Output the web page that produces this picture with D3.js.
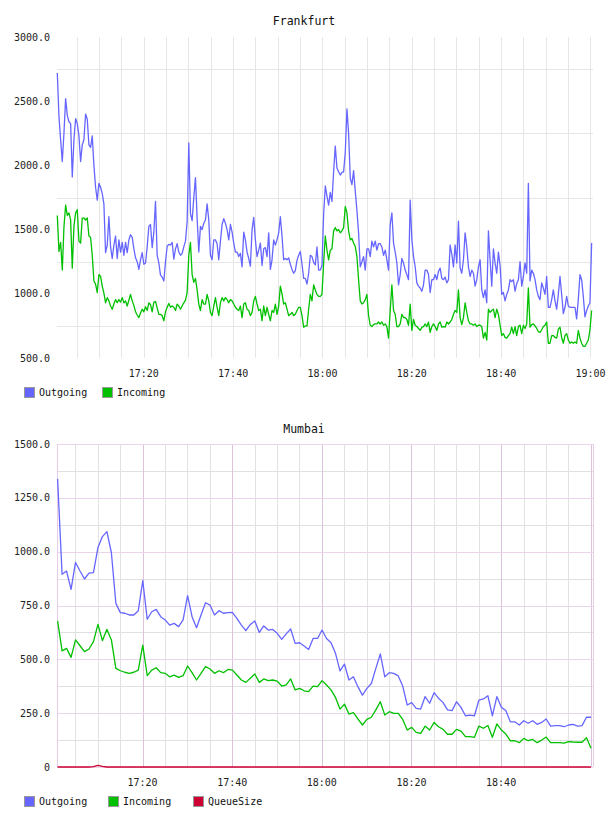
<!DOCTYPE html>
<html>
<head>
<meta charset="utf-8">
<script src="https://cdn.jsdelivr.net/npm/d3@7"></script>
<style>
    body { margin: 0; background: #fff; }
    text { font-family: "DejaVu Sans Mono", monospace; }
</style>
</head>
<body>
<svg id="page" width="608" height="816"></svg>
<script>
// ---------------- data ----------------
// Frankfurt: sampled every ~22 seconds
const fraStart = "17:00:38";
const fraStepSeconds = 22.36;

const fraOutgoing = [
    2720, 2380, 2200, 2030, 2250, 2520, 2390, 2340, 2325, 1910,
    2200, 2365, 2325, 2230, 2030, 2160, 2200, 2400, 2360, 2160,
    2140, 2230, 2000, 1830, 1730, 1860, 1830, 1780, 1700, 1320,
    1380, 1600, 1365, 1275, 1380, 1450, 1275, 1420, 1325, 1400,
    1300, 1400, 1320, 1420, 1460, 1440, 1350, 1280, 1250, 1190,
    1265, 1320, 1230, 1240, 1365, 1525, 1540, 1360, 1480, 1720,
    1300, 1240, 1145, 1130, 1100, 1250, 1370, 1385, 1380, 1400,
    1270, 1350, 1390, 1325, 1300, 1315, 1365, 1410, 1560, 2175,
    1625, 1570, 1750, 1905, 1590, 1325, 1525, 1500, 1550, 1575,
    1700, 1575, 1300, 1265, 1420, 1420, 1390, 1265, 1410, 1540,
    1585, 1550, 1500, 1420, 1540, 1480, 1395, 1325, 1325, 1290,
    1315, 1210, 1480, 1420, 1325, 1275, 1215, 1500, 1595, 1420,
    1290, 1340, 1395, 1220, 1350, 1360, 1290, 1475, 1190, 1265,
    1420, 1380, 1420, 1475, 1600, 1450, 1265, 1275, 1265, 1280,
    1230, 1190, 1160, 1180, 1260, 1300,
    1330, 1232, 1120, 1120, 1075, 1160, 1300, 1290, 1245, 1225,
    1365, 1185, 1185, 1220, 1620, 1840, 1760, 1690, 1790, 1720,
    1950, 2150, 1980, 1950, 1925, 1945, 1950, 2100, 2440, 2250,
    1900, 1850, 1960, 1800, 1650, 1475, 1210, 1250, 1290, 1185,
    1350, 1350, 1290, 1410, 1365, 1410, 1340, 1390, 1390, 1365,
    1300, 1340, 1265, 1185, 1540, 1630, 1395, 1325, 1240, 1070,
    1150, 1275, 1240, 1185, 1150, 1110, 1730, 1420, 1290, 1210,
    1085, 1060, 1045, 1020, 1070, 1185, 1185, 1150, 1010, 1110,
    1110, 1150, 1110, 1175, 1200, 1120, 1110, 1130, 1085, 1110,
    1380, 1310, 1210, 1380, 1240, 1565, 1200, 1160, 1265, 1475,
    1365, 1210, 1135, 1185, 1160, 1060, 1110, 1210, 1265, 1030,
    970, 1030, 930, 1490, 1265, 1060, 1350, 1240, 1160, 1325,
    1220, 995, 1010, 945, 995, 1030, 1110, 1095, 1110, 1020,
    1080, 1110, 1250, 1060, 1135, 1240, 1160, 1860, 1100, 1185,
    1160, 1110, 1030, 980, 955, 1085, 1045, 995, 1135, 895,
    895, 955, 1030, 945, 880, 995, 1135, 995, 845, 895,
    980, 905, 895, 895, 895, 895, 805, 955, 1150, 1110,
    980, 820, 870, 905, 930, 1395
];

const fraIncoming = [
    1610, 1330, 1400, 1185, 1520, 1690, 1610, 1630, 1575, 1200,
    1525, 1630, 1655, 1410, 1395, 1590, 1590, 1575, 1590, 1450,
    1440, 1300, 1100, 1075, 1010, 1150, 1135, 1060, 1005, 930,
    970, 945, 905, 880, 920, 955, 930, 955, 935, 970,
    930, 945, 905, 950, 995, 945, 910, 860, 835, 815,
    850, 880, 860, 900, 870, 930, 915, 860, 935, 940,
    890, 840, 840, 830, 790, 860, 895, 925, 895, 905,
    895, 870, 920, 905, 880, 905, 930, 950, 1010, 1300,
    1400, 1150, 1090, 1120, 1030, 920, 870, 955, 920, 920,
    995, 945, 855, 830, 905, 970, 895, 830, 930, 970,
    945, 970, 955, 930, 955, 945, 920, 895, 880, 870,
    905, 815, 920, 930, 880, 870, 830, 855, 945, 980,
    920, 870, 880, 790, 905, 830, 895, 840, 790, 870,
    855, 920, 840, 905, 1060, 1000, 920, 930, 880, 830,
    840, 855, 830, 840, 870, 895,
    895, 830, 740, 750, 750, 880, 995, 945, 1070, 1030,
    995, 980, 980, 995, 1240, 1450, 1340, 1265, 1340, 1350,
    1490, 1515, 1490, 1500, 1475, 1490, 1515, 1680, 1630, 1490,
    1420, 1430, 1395, 1370, 1290, 1110, 945, 920, 930, 955,
    995, 830, 755, 745, 760, 765, 765, 780, 765, 780,
    755, 765, 745, 655, 870, 1070, 870, 840, 745, 745,
    765, 840, 815, 815, 800, 755, 920, 715, 800, 755,
    745, 730, 715, 740, 745, 765, 745, 780, 700, 745,
    765, 745, 715, 765, 780, 740, 745, 740, 780, 765,
    780, 800, 840, 870, 855, 1030, 815, 760, 815, 930,
    855, 790, 765, 765, 755, 765, 745, 755, 755, 745,
    655, 700, 640, 880, 855, 870, 880, 815, 880, 840,
    755, 675, 690, 660, 655, 675, 690, 740, 690, 745,
    675, 745, 755, 690, 755, 730, 765, 1045, 740, 760,
    765, 750, 730, 705, 700, 720, 745, 755, 780, 615,
    615, 675, 675, 660, 655, 725, 740, 660, 615, 675,
    690, 640, 615, 625, 615, 625, 615, 715, 655, 615,
    590, 590, 615, 640, 720, 870
];

// Mumbai: one sample a minute
const mumStart = "17:01:03";
const mumStepSeconds = 60;

const mumOutgoing = [
    1338, 895, 910, 825, 950, 910, 873, 900, 903, 1019,
    1070, 1093, 995, 760, 717, 714, 706, 706, 726, 865,
    686, 721, 732, 698, 683, 659, 667, 652, 683, 796,
    698, 647, 706, 763, 752, 706, 726, 714, 717, 718,
    690, 659, 633, 662, 678, 625, 655, 636, 639, 621,
    593, 618, 641, 574, 577, 562, 546, 597, 597, 636,
    597, 577, 528, 446, 478, 404, 419, 373, 334, 365,
    388, 458, 525, 419, 438, 435, 423, 376, 288, 299,
    272, 269, 327, 296, 345, 319, 299, 265, 262, 303,
    277, 238, 241, 238, 311, 316, 331, 238, 327, 277,
    262, 210, 210, 195, 215, 203, 215, 198, 207, 223,
    190, 192, 192, 187, 195, 198, 190, 192, 231, 231
];

const mumIncoming = [
    678, 539, 551, 509, 590, 563, 536, 548, 582, 662,
    587, 639, 590, 458, 447, 440, 435, 440, 450, 566,
    424, 450, 461, 438, 435, 419, 427, 416, 424, 469,
    438, 404, 435, 466, 455, 435, 447, 438, 453, 450,
    427, 404, 393, 412, 432, 393, 409, 401, 404, 399,
    376, 381, 409, 358, 365, 354, 350, 376, 373, 401,
    381, 358, 323, 269, 292, 246, 252, 223, 195, 221,
    231, 265, 303, 241, 257, 249, 249, 221, 172, 184,
    161, 156, 190, 172, 207, 187, 175, 152, 152, 175,
    167, 141, 141, 138, 190, 180, 193, 138, 200, 172,
    153, 122, 122, 113, 133, 122, 128, 113, 125, 139,
    113, 113, 113, 111, 118, 116, 115, 115, 136, 87
];

const mumQueueSize = [
    0, 0, 0, 0, 0, 0, 0, 0, 2, 8,
    3, 0, 0, 0, 0, 0, 0, 0, 0, 0,
    0, 0, 0, 0, 0, 0, 0, 0, 0, 0,
    0, 0, 0, 0, 0, 0, 0, 0, 0, 0,
    0, 0, 0, 0, 0, 0, 0, 0, 0, 0,
    0, 0, 0, 0, 0, 0, 0, 0, 0, 0,
    0, 0, 0, 0, 0, 0, 0, 0, 0, 0,
    0, 0, 0, 0, 0, 0, 0, 0, 0, 0,
    0, 0, 0, 0, 0, 0, 0, 0, 0, 0,
    0, 0, 0, 0, 0, 0, 0, 0, 0, 0,
    0, 0, 0, 0, 0, 0, 0, 0, 0, 0,
    0, 0, 0, 0, 0, 0, 0, 0, 0, 0
];

// tick labels
const fraTimeLabels = ["17:20", "17:40", "18:00", "18:20", "18:40", "19:00"];
const mumTimeLabels = ["17:20", "17:40", "18:00", "18:20", "18:40"];
const fraValueTicks = [500, 1000, 1500, 2000, 2500, 3000];
const fraGridValues = [750, 1250, 1750, 2250, 2750];
const mumValueTicks = [0, 250, 500, 750, 1000, 1250, 1500];
const mumMinorValues = [125, 375, 625, 875, 1125, 1375];

const seriesColors = { Outgoing: "#6666ff", Incoming: "#00c000", QueueSize: "#cc0033" };

// ---------------- chart ----------------
const parseTime = d3.timeParse("%H:%M:%S");

function buildRows(start, stepSeconds, values) {
    let t0 = parseTime(start).getTime();
    return values.map((v, i) => ({ time: new Date(t0 + i * stepSeconds * 1000), value: v }));
}

class TimeChart {

    constructor(_config, _series) {
        this.config = {
            parentElement: _config.parentElement,
            title: _config.title,
            titleY: _config.titleY,
            top: _config.top,
            left: 57,
            width: 536,
            height: _config.height,
            xDomain: _config.xDomain,
            yDomain: _config.yDomain,
            yTicks: _config.yTicks,
            yFormat: _config.yFormat,
            timeLabels: _config.timeLabels,
            gridStyle: _config.gridStyle,
            legendX: _config.legendX,
            legendY: _config.legendY
        }
        this.series = _series;
        this.initVis();
    }

    initVis() {
        let vis = this;

        vis.svg = d3.select(vis.config.parentElement);

        // title above the plot
        vis.svg.append("text")
            .attr("x", 304)
            .attr("y", vis.config.titleY)
            .attr("text-anchor", "middle")
            .attr("font-size", "11.5px")
            .attr("fill", "#111")
            .text(vis.config.title);

        vis.chart = vis.svg.append("g")
            .attr("transform", `translate(${vis.config.left},${vis.config.top})`);

        vis.xScale = d3.scaleTime()
            .domain(vis.config.xDomain.map(parseTime))
            .range([0, vis.config.width]);

        vis.yScale = d3.scaleLinear()
            .domain(vis.config.yDomain)
            .range([vis.config.height, 0]);

        vis.gridG = vis.chart.append("g").attr("class", "grid")
            .attr("shape-rendering", "crispEdges");
        vis.lineG = vis.chart.append("g").attr("class", "lines");
        vis.axisG = vis.chart.append("g").attr("class", "axis");

        vis.renderVis();
    }

    renderVis() {
        let vis = this;
        let w = vis.config.width, h = vis.config.height;

        // vertical grid every 5 minutes
        let minutes = d3.timeMinute.every(5).range(vis.xScale.domain()[0], vis.xScale.domain()[1])
            .filter(t => vis.xScale(t) < w - 2);

        if (vis.config.gridStyle === "plain") {
            vis.gridG.selectAll(".vline")
                .data(minutes)
                .join("line")
                .attr("class", "vline")
                .attr("x1", d => Math.round(vis.xScale(d)) + 0.5)
                .attr("x2", d => Math.round(vis.xScale(d)) + 0.5)
                .attr("y1", 0).attr("y2", h)
                .attr("stroke", "#e6e6e6");

            vis.gridG.selectAll(".hline")
                .data(fraGridValues)
                .join("line")
                .attr("class", "hline")
                .attr("x1", 0).attr("x2", w)
                .attr("y1", d => Math.round(vis.yScale(d)) + 0.5)
                .attr("y2", d => Math.round(vis.yScale(d)) + 0.5)
                .attr("stroke", "#e6e6e6");

            // the last 5 minute line
            vis.gridG.append("line")
                .attr("x1", Math.round(vis.xScale(parseTime("19:00:00"))) + 0.5)
                .attr("x2", Math.round(vis.xScale(parseTime("19:00:00"))) + 0.5)
                .attr("y1", 0).attr("y2", h)
                .attr("stroke", "#e6e6e6");
        } else {
            vis.gridG.selectAll(".hminor")
                .data(mumMinorValues)
                .join("line")
                .attr("class", "hminor")
                .attr("x1", 0).attr("x2", w)
                .attr("y1", d => Math.round(vis.yScale(d)) + 0.5)
                .attr("y2", d => Math.round(vis.yScale(d)) + 0.5)
                .attr("stroke", "#e0e0e0");

            vis.gridG.selectAll(".vline")
                .data(minutes)
                .join("line")
                .attr("class", "vline")
                .attr("x1", d => Math.round(vis.xScale(d)) + 0.5)
                .attr("x2", d => Math.round(vis.xScale(d)) + 0.5)
                .attr("y1", 0).attr("y2", h)
                .attr("stroke", d => d.getMinutes() % 20 === 0 ? "#dcc3dc" : "#e2e2e2");

            vis.gridG.selectAll(".hmajor")
                .data(vis.config.yTicks)
                .join("line")
                .attr("class", "hmajor")
                .attr("x1", 0).attr("x2", w)
                .attr("y1", d => Math.round(vis.yScale(d)) + 0.5)
                .attr("y2", d => Math.round(vis.yScale(d)) + 0.5)
                .attr("stroke", "#ecd3ec");

            // frame on left and right
            [0, w].forEach(x => {
                vis.gridG.append("line")
                    .attr("x1", x + 0.5).attr("x2", x + 0.5)
                    .attr("y1", 0).attr("y2", h)
                    .attr("stroke", "#e8cce8");
            });
        }

        // series lines
        let line = d3.line()
            .x(d => vis.xScale(d.time))
            .y(d => vis.yScale(d.value));

        vis.lineG.selectAll(".line")
            .data(vis.series)
            .join("path")
            .attr("class", "line")
            .attr("fill", "none")
            .attr("stroke", d => seriesColors[d.name])
            .attr("stroke-width", 1.3)
            .attr("stroke-linejoin", "round")
            .attr("d", d => line(d.rows));

        // y labels
        vis.axisG.selectAll(".ylabel")
            .data(vis.config.yTicks)
            .join("text")
            .attr("class", "ylabel")
            .attr("x", -7)
            .attr("y", d => vis.yScale(d))
            .attr("dy", "0.35em")
            .attr("text-anchor", "end")
            .attr("font-size", "10px")
            .attr("fill", "#222")
            .text(vis.config.yFormat);

        // x labels
        vis.axisG.selectAll(".xlabel")
            .data(vis.config.timeLabels)
            .join("text")
            .attr("class", "xlabel")
            .attr("x", d => vis.xScale(d3.timeParse("%H:%M")(d)))
            .attr("y", h + 19)
            .attr("text-anchor", "middle")
            .attr("font-size", "10px")
            .attr("fill", "#222")
            .text(d => d);

        // legend below
        let legend = vis.svg.append("g")
            .attr("transform", `translate(0,${vis.config.legendY})`);

        vis.series.forEach((s, i) => {
            let x = vis.config.legendX[i];
            legend.append("rect")
                .attr("x", x + 0.5).attr("y", 0.5)
                .attr("width", 10).attr("height", 10)
                .attr("fill", seriesColors[s.name])
                .attr("stroke", "#999");
            legend.append("text")
                .attr("x", x + 15)
                .attr("y", 9)
                .attr("font-size", "10px")
                .attr("fill", "#111")
                .text(s.name);
        });
    }
}

const labelFormat = d => d === 0 ? "0" : d3.format(".1f")(d);

new TimeChart({
    parentElement: "#page",
    title: "Frankfurt",
    titleY: 25,
    top: 37,
    height: 321,
    xDomain: ["17:00:34", "19:00:34"],
    yDomain: [500, 3000],
    yTicks: fraValueTicks,
    yFormat: labelFormat,
    timeLabels: fraTimeLabels,
    gridStyle: "plain",
    legendX: [24, 102],
    legendY: 387
}, [
    { name: "Outgoing", rows: buildRows(fraStart, fraStepSeconds, fraOutgoing) },
    { name: "Incoming", rows: buildRows(fraStart, fraStepSeconds, fraIncoming) }
]);

new TimeChart({
    parentElement: "#page",
    title: "Mumbai",
    titleY: 433,
    top: 444,
    height: 323,
    xDomain: ["17:00:55", "19:00:30"],
    yDomain: [0, 1500],
    yTicks: mumValueTicks,
    yFormat: labelFormat,
    timeLabels: mumTimeLabels,
    gridStyle: "framed",
    legendX: [24, 108, 193],
    legendY: 796
}, [
    { name: "Outgoing", rows: buildRows(mumStart, mumStepSeconds, mumOutgoing) },
    { name: "Incoming", rows: buildRows(mumStart, mumStepSeconds, mumIncoming) },
    { name: "QueueSize", rows: buildRows(mumStart, mumStepSeconds, mumQueueSize) }
]);
</script>
</body>
</html>
